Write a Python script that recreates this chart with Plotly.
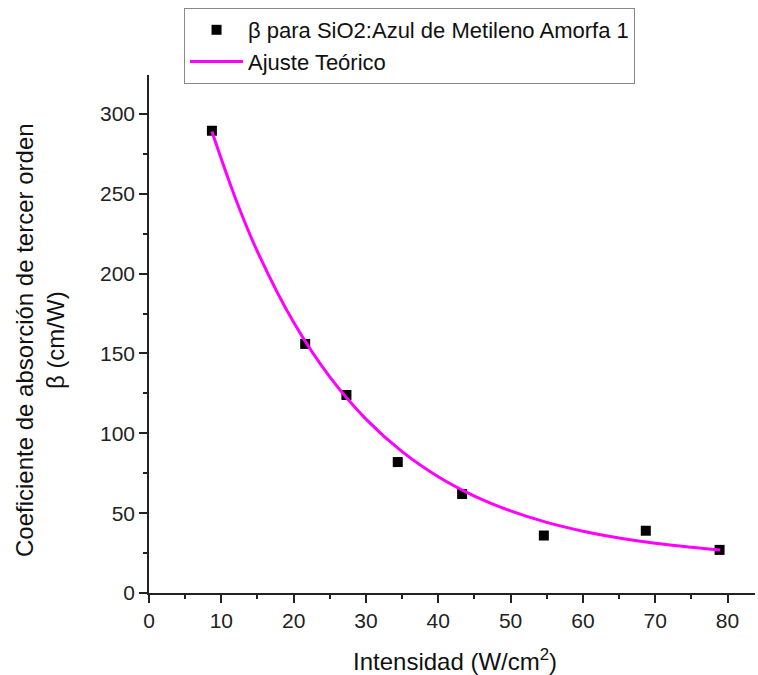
import plotly.graph_objects as go

# Measured data
intensidad = [8.7, 21.6, 27.3, 34.4, 43.3, 54.6, 68.7, 78.9]
beta = [289.5, 156, 124, 82, 62, 36, 39, 27]

# Theoretical fit curve
fit_x = [8.7, 12, 15, 20, 25, 30, 35, 40, 45, 50, 55, 60, 65, 70, 75, 79]
fit_y = [289, 246.6, 213.8, 169.5, 135.3, 108.9, 88.5, 72.8, 60.7, 51.4, 44.2, 38.7, 34.4, 31.1, 28.6, 26.9]

x_ticks = [0, 10, 20, 30, 40, 50, 60, 70, 80]
y_ticks = [0, 50, 100, 150, 200, 250, 300]

FONT = "Liberation Sans, Arial, sans-serif"

fig = go.Figure()
fig.add_trace(go.Scatter(
    x=intensidad, y=beta, mode="markers",
    name="\u03b2 para SiO2:Azul de Metileno Amorfa 1",
    marker=dict(symbol="square", size=10, color="black"),
))
fig.add_trace(go.Scatter(
    x=fit_x, y=fit_y, mode="lines",
    name="Ajuste Te\u00f3rico",
    line=dict(color="#FF00FF", width=3, shape="spline"),
))

axis_common = dict(
    showgrid=False, zeroline=False, showline=True,
    linecolor="#222", linewidth=1.5,
    ticks="outside", ticklen=8, tickwidth=1.5, tickcolor="#222",
    tickfont=dict(family=FONT, size=21, color="#222"),
    mirror=False,
)

fig.update_layout(
    width=758, height=675,
    margin=dict(l=149, r=3, t=75, b=82),
    paper_bgcolor="white", plot_bgcolor="white",
    font=dict(family=FONT, color="#222"),
    xaxis=dict(range=[0, 83.8], tickvals=x_ticks,
               minor=dict(dtick=5, tick0=0, ticks="outside", ticklen=4, tickwidth=1.5, tickcolor="#222"),
               **axis_common),
    yaxis=dict(range=[0, 324.4], tickvals=y_ticks,
               minor=dict(dtick=25, tick0=0, ticks="outside", ticklen=4, tickwidth=1.5, tickcolor="#222"),
               **axis_common),
    legend=dict(
        x=0.0578, y=(593 - 8) / 518, xanchor="left", yanchor="top",
        bordercolor="#888", borderwidth=1, bgcolor="white",
        font=dict(family=FONT, size=22, color="#111"),
        itemwidth=53, tracegroupgap=0,
    ),
    showlegend=True,
    annotations=[
        dict(text="Intensidad (W/cm<sup>2</sup>)", xref="paper", yref="paper",
             x=(455 - 149) / 606, y=-(660 - 593) / 518, xanchor="center", yanchor="middle",
             showarrow=False, font=dict(family=FONT, size=24, color="#111")),
        dict(text="Coeficiente de absorci\u00f3n de tercer orden<br>\u03b2 (cm/W)",
             xref="paper", yref="paper",
             x=(40 - 149) / 606, y=(593 - 340) / 518, xanchor="center", yanchor="middle",
             textangle=-90, showarrow=False,
             font=dict(family=FONT, size=24, color="#111")),
    ],
)

fig.write_html("out.html")
